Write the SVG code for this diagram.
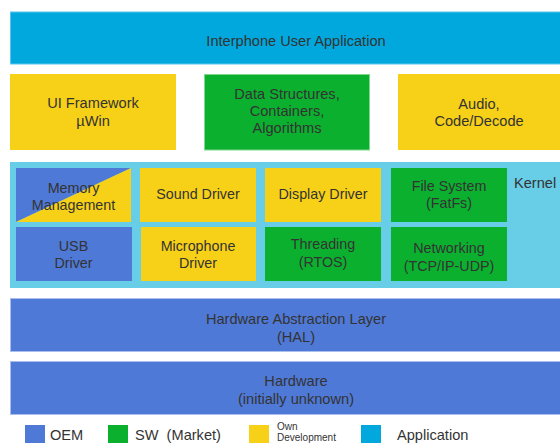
<svg xmlns="http://www.w3.org/2000/svg" width="560" height="443" viewBox="0 0 560 443">
<style>
text{font-family:"Liberation Sans",Arial,sans-serif;fill:#333;text-anchor:middle}
.t{font-size:14.6px}
.s{font-size:14.3px}
.l{font-size:14.6px;text-anchor:start}
.o{font-size:10px;text-anchor:start}
.app{fill:#00a8de;stroke:#5ac6ee;stroke-width:1}
.yel{fill:#f7d117}
.grn{fill:#0bb02f}
.blu{fill:#4f79d6}
.hal{fill:#4f79d6;stroke:#a9bdee;stroke-width:1}
.ker{fill:#68cde7}
</style>
<rect width="560" height="443" fill="#fff"/>
<g id="app">
<rect class="app" x="10.5" y="12" width="580" height="52"/>
<text class="t" x="296" y="46">Interphone User Application</text>
</g>
<g id="ui">
<rect class="yel" x="10" y="74" width="166" height="76"/>
<text class="t" x="93" y="108">UI Framework</text>
<text class="t" x="93" y="126">µWin</text>
</g>
<g id="data">
<rect class="grn" x="204.5" y="74.5" width="165" height="75.5" stroke="#7fd98d" stroke-width="1"/>
<text class="t" x="287" y="99">Data Structures,</text>
<text class="t" x="287" y="116">Containers,</text>
<text class="t" x="287" y="133">Algorithms</text>
</g>
<g id="audio">
<rect class="yel" x="398" y="74" width="170" height="76"/>
<text class="t" x="479" y="109">Audio,</text>
<text class="t" x="479" y="126">Code/Decode</text>
</g>
<g id="kernel">
<rect class="ker" x="10" y="162" width="560" height="126"/>
<text class="t" x="514" y="188" style="text-anchor:start">Kernel</text>
</g>
<g id="memory">
<polygon class="blu" points="16,168 131,168 16,222"/>
<polygon class="yel" points="131,168 131,222 16,222"/>
<text class="s" x="73.5" y="193">Memory</text>
<text class="s" x="73.5" y="210">Management</text>
</g>
<g id="sound">
<rect class="yel" x="140" y="168" width="116" height="54"/>
<text class="s" x="198" y="199">Sound Driver</text>
</g>
<g id="display">
<rect class="yel" x="265" y="168" width="116" height="54"/>
<text class="s" x="323" y="199">Display Driver</text>
</g>
<g id="fs">
<rect class="grn" x="391" y="168" width="116" height="54"/>
<text class="s" x="449" y="191">File System</text>
<text class="s" x="449" y="208">(FatFs)</text>
</g>
<g id="usb">
<rect class="blu" x="16" y="227" width="116" height="54"/>
<text class="s" x="73.5" y="251">USB</text>
<text class="s" x="73.5" y="268">Driver</text>
</g>
<g id="mic">
<rect class="yel" x="141" y="227" width="115" height="54"/>
<text class="s" x="198" y="251">Microphone</text>
<text class="s" x="198" y="268">Driver</text>
</g>
<g id="thread">
<rect class="grn" x="265" y="227" width="116" height="54"/>
<text class="s" x="323" y="249">Threading</text>
<text class="s" x="323" y="267">(RTOS)</text>
</g>
<g id="net">
<rect class="grn" x="391" y="227" width="116" height="54"/>
<text class="s" x="449" y="253">Networking</text>
<text class="s" x="449" y="271">(TCP/IP-UDP)</text>
</g>
<g id="hal">
<rect class="hal" x="10.5" y="298.5" width="580" height="53"/>
<text class="t" x="296" y="324">Hardware Abstraction Layer</text>
<text class="t" x="296" y="342">(HAL)</text>
</g>
<g id="hw">
<rect class="hal" x="10.5" y="361.5" width="580" height="53"/>
<text class="t" x="296" y="386">Hardware</text>
<text class="t" x="296" y="404">(initially unknown)</text>
</g>
<g id="connectors"></g>
<g id="legend">
<rect class="blu" x="25" y="425" width="20" height="20"/>
<text class="l" x="50" y="440">OEM</text>
<rect class="grn" x="108" y="425" width="20" height="20"/>
<text class="l" x="135" y="440" xml:space="preserve">SW  (Market)</text>
<rect class="yel" x="249" y="425" width="20" height="20"/>
<text class="o" x="277" y="430">Own</text>
<text class="o" x="277" y="441">Development</text>
<rect x="361" y="425" width="20" height="20" fill="#00a8de"/>
<text class="l" x="397" y="440">Application</text>
</g>
</svg>
